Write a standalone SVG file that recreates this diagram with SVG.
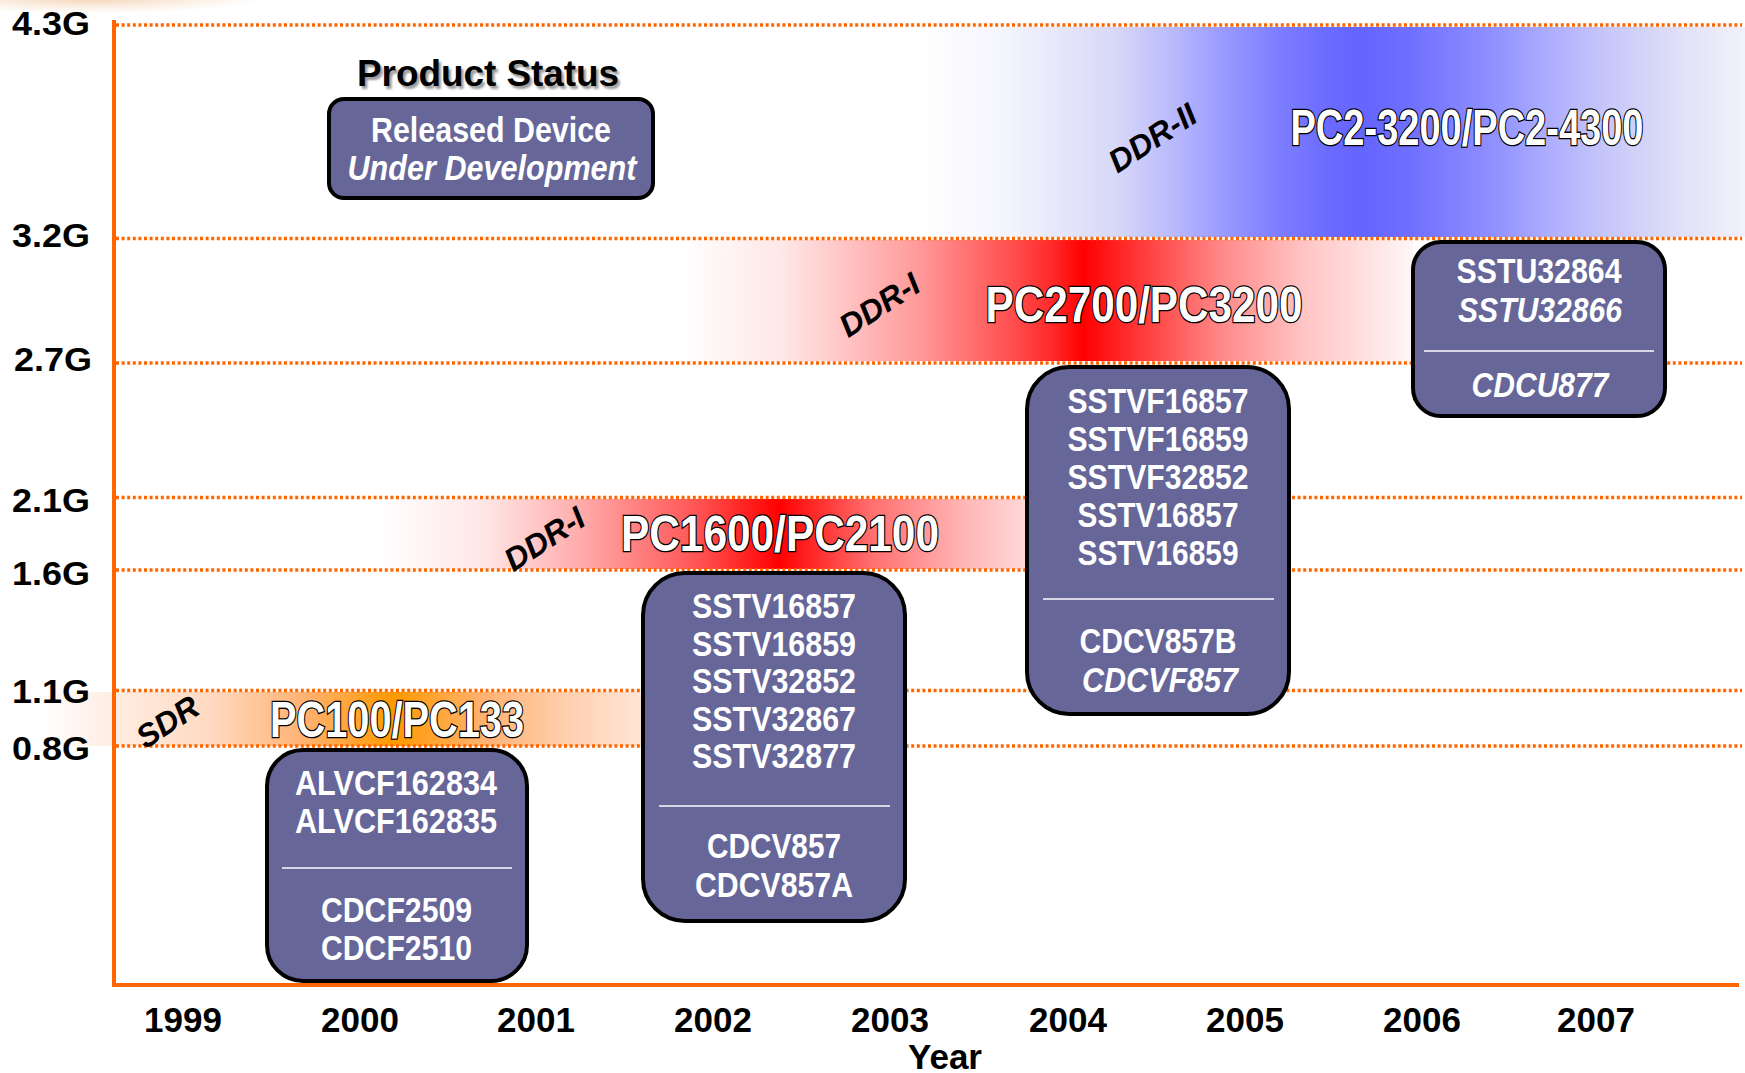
<svg xmlns="http://www.w3.org/2000/svg" width="1745" height="1073" viewBox="0 0 1745 1073">
<defs>
<style>
.grid{stroke:#FF6600;stroke-width:3.5;stroke-dasharray:3 2.6;fill:none}
.axis{stroke:#FF6600;stroke-width:4;fill:none}
.ylab{font-family:"Liberation Sans",Arial,sans-serif;font-weight:bold;font-size:34px;fill:#000;text-anchor:end}
.year{font-family:"Liberation Sans",Arial,sans-serif;font-weight:bold;font-size:35px;fill:#000;text-anchor:middle}
.box{fill:#666699;stroke:#000;stroke-width:4}
.dev{font-family:"Liberation Sans",Arial,sans-serif;font-weight:bold;font-size:35px;fill:#fff;text-anchor:middle}
.it{font-style:italic}
.sep{stroke:#fff;stroke-width:1.3}
.std{font-family:"Liberation Sans",Arial,sans-serif;font-weight:bold;font-size:50px;fill:#fff;stroke:#000;stroke-width:2.6;paint-order:stroke fill;text-anchor:middle}
.gen{font-family:"Liberation Sans",Arial,sans-serif;font-weight:bold;font-style:italic;font-size:32px;fill:#000;text-anchor:middle}
.title{font-family:"Liberation Sans",Arial,sans-serif;font-weight:bold;font-size:37px;text-anchor:middle}
</style>
<linearGradient id="gBlue" gradientUnits="userSpaceOnUse" x1="920" y1="0" x2="1745" y2="0">
<stop offset="0" stop-color="#FFFFFF"/>
<stop offset="0.107" stop-color="#F4F4FC"/>
<stop offset="0.236" stop-color="#D8D8F8"/>
<stop offset="0.302" stop-color="#BCBCFC"/>
<stop offset="0.367" stop-color="#9A9AFF"/>
<stop offset="0.433" stop-color="#7E7EFF"/>
<stop offset="0.498" stop-color="#6A6AFF"/>
<stop offset="0.537" stop-color="#6464FF"/>
<stop offset="0.596" stop-color="#7070FF"/>
<stop offset="0.695" stop-color="#9090FF"/>
<stop offset="0.759" stop-color="#ACACFF"/>
<stop offset="0.824" stop-color="#C4C4FA"/>
<stop offset="0.922" stop-color="#E0E0F8"/>
<stop offset="1" stop-color="#F2F2FC"/>
</linearGradient>
<linearGradient id="gRed1" gradientUnits="userSpaceOnUse" x1="680" y1="0" x2="1413" y2="0">
<stop offset="0" stop-color="#FFFFFF"/>
<stop offset="0.142" stop-color="#FFE6E6"/>
<stop offset="0.325" stop-color="#FF9A9A"/>
<stop offset="0.45" stop-color="#FF5050"/>
<stop offset="0.507" stop-color="#FF2A2A"/>
<stop offset="0.55" stop-color="#FF0000"/>
<stop offset="0.629" stop-color="#FF3A3A"/>
<stop offset="0.741" stop-color="#FF8A8A"/>
<stop offset="0.851" stop-color="#FFC4C4"/>
<stop offset="1" stop-color="#FFF6F6"/>
</linearGradient>
<linearGradient id="gRed2" gradientUnits="userSpaceOnUse" x1="380" y1="0" x2="1030" y2="0">
<stop offset="0" stop-color="#FFFFFF"/>
<stop offset="0.162" stop-color="#FFE6E6"/>
<stop offset="0.302" stop-color="#FFAEAE"/>
<stop offset="0.488" stop-color="#FF5454"/>
<stop offset="0.614" stop-color="#FF0000"/>
<stop offset="0.758" stop-color="#FF7070"/>
<stop offset="0.895" stop-color="#FFB4B4"/>
<stop offset="1" stop-color="#FFDADA"/>
</linearGradient>
<linearGradient id="gOrange" gradientUnits="userSpaceOnUse" x1="40" y1="0" x2="645" y2="0">
<stop offset="0" stop-color="#FFFFFF"/>
<stop offset="0.084" stop-color="#FFF2EA"/>
<stop offset="0.284" stop-color="#FFD9C0"/>
<stop offset="0.435" stop-color="#FFB273"/>
<stop offset="0.585" stop-color="#FF9900"/>
<stop offset="0.736" stop-color="#FFB273"/>
<stop offset="0.886" stop-color="#FFD2B4"/>
<stop offset="1" stop-color="#FFE6D8"/>
</linearGradient>
<radialGradient id="gGlow" cx="0.5" cy="0.5" r="0.5">
<stop offset="0" stop-color="#E8A060" stop-opacity="0.55"/>
<stop offset="1" stop-color="#F0C090" stop-opacity="0"/>
</radialGradient>
<filter id="shadow" x="-5%" y="-20%" width="110%" height="140%">
<feGaussianBlur stdDeviation="0.8"/>
</filter>
</defs>

<rect width="1745" height="1073" fill="#fff"/>
<ellipse cx="90" cy="-4" rx="180" ry="18" fill="url(#gGlow)"/>

<g id="bands">
<rect x="920" y="27" width="825" height="210" fill="url(#gBlue)"/>
<rect x="680" y="240" width="733" height="121" fill="url(#gRed1)"/>
<rect x="380" y="499" width="660" height="70" fill="url(#gRed2)"/>
<rect x="40" y="692" width="610" height="54" fill="url(#gOrange)"/>
</g>

<g id="connectors">
<line class="grid" x1="116" y1="25" x2="1742" y2="25"/>
<line class="grid" x1="116" y1="238.5" x2="1742" y2="238.5"/>
<line class="grid" x1="116" y1="363" x2="1742" y2="363"/>
<line class="grid" x1="116" y1="497.5" x2="1742" y2="497.5"/>
<line class="grid" x1="116" y1="570" x2="1742" y2="570"/>
<line class="grid" x1="116" y1="690.5" x2="1742" y2="690.5"/>
<line class="grid" x1="116" y1="746" x2="1742" y2="746"/>
<line class="axis" x1="114" y1="20" x2="114" y2="987"/>
<line class="axis" x1="112" y1="985" x2="1739" y2="985"/>
</g>

<g id="y-labels">
<text class="ylab" x="90" y="35" textLength="78" lengthAdjust="spacingAndGlyphs">4.3G</text>
<text class="ylab" x="90" y="247" textLength="78" lengthAdjust="spacingAndGlyphs">3.2G</text>
<text class="ylab" x="92" y="371" textLength="78" lengthAdjust="spacingAndGlyphs">2.7G</text>
<text class="ylab" x="90" y="512" textLength="78" lengthAdjust="spacingAndGlyphs">2.1G</text>
<text class="ylab" x="90" y="585" textLength="78" lengthAdjust="spacingAndGlyphs">1.6G</text>
<text class="ylab" x="90" y="703" textLength="78" lengthAdjust="spacingAndGlyphs">1.1G</text>
<text class="ylab" x="90" y="760" textLength="78" lengthAdjust="spacingAndGlyphs">0.8G</text>
</g>

<g id="x-labels">
<text class="year" x="183" y="1032">1999</text>
<text class="year" x="360" y="1032">2000</text>
<text class="year" x="536" y="1032">2001</text>
<text class="year" x="713" y="1032">2002</text>
<text class="year" x="890" y="1032">2003</text>
<text class="year" x="1068" y="1032">2004</text>
<text class="year" x="1245" y="1032">2005</text>
<text class="year" x="1422" y="1032">2006</text>
<text class="year" x="1596" y="1032">2007</text>
<text class="year" x="945" y="1069">Year</text>
</g>

<g id="band-labels">
<text class="std" x="1467" y="145" textLength="353" lengthAdjust="spacingAndGlyphs">PC2-3200/PC2-4300</text>
<text class="std" x="1144" y="322" textLength="317" lengthAdjust="spacingAndGlyphs">PC2700/PC3200</text>
<text class="std" x="780" y="551" textLength="318" lengthAdjust="spacingAndGlyphs">PC1600/PC2100</text>
<text class="std" x="397" y="737" textLength="254" lengthAdjust="spacingAndGlyphs">PC100/PC133</text>
<g transform="translate(1152,137) rotate(-33)"><text class="gen" x="0" y="12">DDR-II</text></g>
<g transform="translate(879,304) rotate(-33)"><text class="gen" x="0" y="12">DDR-I</text></g>
<g transform="translate(544,538) rotate(-33)"><text class="gen" x="0" y="12">DDR-I</text></g>
<g transform="translate(167,721) rotate(-33)"><text class="gen" x="0" y="12">SDR</text></g>
</g>

<g id="legend">
<text class="title" x="490.5" y="88.5" fill="#999" filter="url(#shadow)" textLength="262" lengthAdjust="spacingAndGlyphs">Product Status</text>
<text class="title" x="488" y="86" fill="#000" textLength="262" lengthAdjust="spacingAndGlyphs">Product Status</text>
<rect class="box" x="329" y="99" width="324" height="99" rx="15"/>
<text class="dev" x="491" y="142" textLength="240" lengthAdjust="spacingAndGlyphs">Released Device</text>
<text class="dev it" x="492" y="180" textLength="289" lengthAdjust="spacingAndGlyphs">Under Development</text>
</g>

<g id="box-2000">
<rect class="box" x="267" y="750" width="260" height="231" rx="36"/>
<text class="dev" x="396" y="795" textLength="202" lengthAdjust="spacingAndGlyphs">ALVCF162834</text>
<text class="dev" x="396" y="833" textLength="202" lengthAdjust="spacingAndGlyphs">ALVCF162835</text>
<line class="sep" x1="282" y1="868" x2="512" y2="868"/>
<text class="dev" x="396.5" y="922" textLength="151" lengthAdjust="spacingAndGlyphs">CDCF2509</text>
<text class="dev" x="396.5" y="960" textLength="151" lengthAdjust="spacingAndGlyphs">CDCF2510</text>
</g>

<g id="box-2002">
<rect class="box" x="643" y="573" width="262" height="348" rx="42"/>
<text class="dev" x="774" y="618" textLength="164" lengthAdjust="spacingAndGlyphs">SSTV16857</text>
<text class="dev" x="774" y="655.5" textLength="164" lengthAdjust="spacingAndGlyphs">SSTV16859</text>
<text class="dev" x="774" y="693" textLength="164" lengthAdjust="spacingAndGlyphs">SSTV32852</text>
<text class="dev" x="774" y="730.5" textLength="164" lengthAdjust="spacingAndGlyphs">SSTV32867</text>
<text class="dev" x="774" y="768" textLength="164" lengthAdjust="spacingAndGlyphs">SSTV32877</text>
<line class="sep" x1="659" y1="806" x2="890" y2="806"/>
<text class="dev" x="774" y="858" textLength="134" lengthAdjust="spacingAndGlyphs">CDCV857</text>
<text class="dev" x="774" y="897" textLength="158" lengthAdjust="spacingAndGlyphs">CDCV857A</text>
</g>

<g id="box-2004">
<rect class="box" x="1027" y="367" width="262" height="347" rx="42"/>
<text class="dev" x="1158" y="413" textLength="181" lengthAdjust="spacingAndGlyphs">SSTVF16857</text>
<text class="dev" x="1158" y="451" textLength="181" lengthAdjust="spacingAndGlyphs">SSTVF16859</text>
<text class="dev" x="1158" y="489" textLength="181" lengthAdjust="spacingAndGlyphs">SSTVF32852</text>
<text class="dev" x="1158" y="527" textLength="161" lengthAdjust="spacingAndGlyphs">SSTV16857</text>
<text class="dev" x="1158" y="565" textLength="161" lengthAdjust="spacingAndGlyphs">SSTV16859</text>
<line class="sep" x1="1043" y1="599" x2="1274" y2="599"/>
<text class="dev" x="1158" y="653" textLength="157" lengthAdjust="spacingAndGlyphs">CDCV857B</text>
<text class="dev it" x="1160" y="692" textLength="156" lengthAdjust="spacingAndGlyphs">CDCVF857</text>
</g>

<g id="box-2006">
<rect class="box" x="1413" y="242" width="252" height="174" rx="28"/>
<text class="dev" x="1539" y="283" textLength="165" lengthAdjust="spacingAndGlyphs">SSTU32864</text>
<text class="dev it" x="1540" y="322" textLength="164" lengthAdjust="spacingAndGlyphs">SSTU32866</text>
<line class="sep" x1="1424" y1="351" x2="1654" y2="351"/>
<text class="dev it" x="1540" y="397" textLength="137" lengthAdjust="spacingAndGlyphs">CDCU877</text>
</g>
</svg>
